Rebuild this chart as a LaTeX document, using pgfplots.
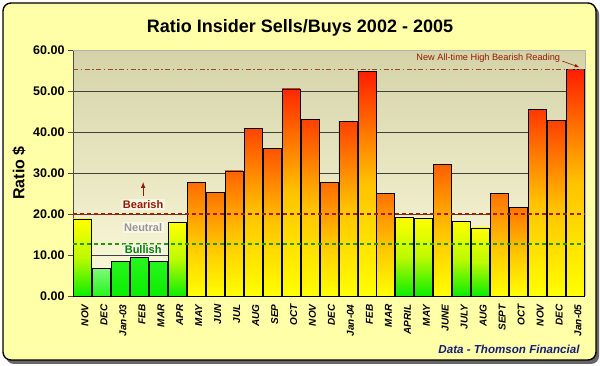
\documentclass[border=0pt]{standalone}
\usepackage{pgfplots}
\pgfplotsset{compat=1.18}
\usepackage{fontspec}
\setmainfont{Liberation Sans}
\definecolor{frameY}{RGB}{255,255,168}
\definecolor{bgTop}{RGB}{212,211,168}
\definecolor{bgBot}{RGB}{253,251,220}
\definecolor{yel}{RGB}{255,255,0}
\definecolor{yelor}{RGB}{255,195,0}
\definecolor{OR}{RGB}{255,115,0}
\definecolor{RD}{RGB}{255,30,0}
\definecolor{grn}{RGB}{10,238,0}
\definecolor{grnL}{RGB}{40,245,30}
\definecolor{grnM}{RGB}{190,250,0}
\definecolor{bearC}{RGB}{150,25,0}
\definecolor{bullC}{RGB}{0,130,0}
\definecolor{neutC}{RGB}{150,150,150}
\definecolor{bearLine}{RGB}{170,30,0}
\definecolor{bullLine}{RGB}{40,150,0}
\definecolor{highLine}{RGB}{170,70,30}
\definecolor{navyC}{RGB}{20,30,120}
\pgfplotsset{
  barbase/.style={ybar, bar shift=0pt, bar width=18pt, draw=black, line width=0.8pt},
  hi/.style={barbase, top color=#1, bottom color=yel, middle color=yelor},
  lo/.style={barbase, top color=yel, bottom color=grn, middle color=grnM},
  gr/.style={barbase, top color=grnL, bottom color=grn},
}
\begin{document}
\begin{tikzpicture}
\useasboundingbox (0,0) rectangle (600pt,366pt);
\fill[black!60, rounded corners=8pt] (6pt,2pt) rectangle (599pt,360pt);
\draw[black, line width=1.4pt, fill=frameY, rounded corners=8pt] (3pt,6pt) rectangle (596pt,363pt);
\node[font=\bfseries\fontsize{18}{21}\selectfont] at (300pt,338pt) {Ratio Insider Sells/Buys 2002 - 2005};
\node[rotate=90, font=\bfseries\fontsize{16}{18}\selectfont] at (19pt,193pt) {Ratio \$};
\node[font=\bfseries\itshape\fontsize{11.6}{13}\selectfont, text=navyC] at (509pt,17pt) {Data - Thomson Financial};
\begin{axis}[
  at={(73pt,70pt)}, anchor=south west,
  scale only axis, width=512pt, height=246pt,
  xmin=-0.5, xmax=26.5, ymin=0, ymax=60,
  axis x line*=bottom, axis y line*=left,
  axis line style={black!70, line width=0.8pt},
  axis background/.style={top color=bgTop, bottom color=bgBot},
  ytick={0,10,...,60},
  ymajorgrids, grid style={black!75, line width=0.6pt},
  tick align=outside,
  major tick length=5pt,
  ytick style={black!70, line width=0.8pt},
  xtick style={draw=none},
  xtick={0,...,26},
  xticklabels={NOV,DEC,Jan-03,FEB,MAR,APR,MAY,JUN,JUL,AUG,SEP,OCT,NOV,DEC,Jan-04,FEB,MAR,APRIL,MAY,JUNE,JULY,AUG,SEPT,OCT,NOV,DEC,Jan-05},
  x tick label style={rotate=90, anchor=east, font=\bfseries\itshape\fontsize{10}{11}\selectfont, yshift=-2.5pt},
  y tick label style={font=\bfseries\fontsize{12.5}{14}\selectfont, /pgf/number format/.cd, fixed, fixed zerofill, precision=2, assume math mode=true},
  clip=false,
]
\addplot[lo] coordinates {(0,18.8)};
\addplot[gr, top color=grnL!60!white, bottom color=grnL] coordinates {(1,6.8)};
\addplot[gr] coordinates {(2,8.5)};
\addplot[gr] coordinates {(3,9.5)};
\addplot[gr] coordinates {(4,8.5)};
\addplot[lo] coordinates {(5,18.0)};
\addplot[hi=RD!9!OR] coordinates {(6,27.8)};
\addplot[hi=OR] coordinates {(7,25.2)};
\addplot[hi=RD!18!OR] coordinates {(8,30.5)};
\addplot[hi=RD!53!OR] coordinates {(9,40.8)};
\addplot[hi=RD!37!OR] coordinates {(10,36.0)};
\addplot[hi=RD!88!OR] coordinates {(11,50.5)};
\addplot[hi=RD!60!OR] coordinates {(12,43.0)};
\addplot[hi=RD!9!OR] coordinates {(13,27.8)};
\addplot[hi=RD!58!OR] coordinates {(14,42.5)};
\addplot[hi=RD] coordinates {(15,54.8)};
\addplot[hi=OR] coordinates {(16,25.0)};
\addplot[lo] coordinates {(17,19.2)};
\addplot[lo] coordinates {(18,19.0)};
\addplot[hi=RD!23!OR] coordinates {(19,32.0)};
\addplot[lo] coordinates {(20,18.2)};
\addplot[lo] coordinates {(21,16.6)};
\addplot[hi=OR] coordinates {(22,25.0)};
\addplot[hi=OR] coordinates {(23,21.7)};
\addplot[hi=RD!70!OR] coordinates {(24,45.6)};
\addplot[hi=RD!60!OR] coordinates {(25,42.8)};
\addplot[hi=RD] coordinates {(26,55.2)};
% reference lines
\addplot[bearLine, line width=1.2pt, dash pattern=on 4pt off 3pt] coordinates {(-0.5,20) (26.5,20)};
\addplot[bullLine, line width=1.2pt, dash pattern=on 4pt off 3pt] coordinates {(-0.5,12.7) (26.5,12.7)};
\addplot[highLine, line width=1.2pt, dash pattern=on 5pt off 2.5pt on 1.5pt off 2.5pt] coordinates {(-0.5,55.3) (26.5,55.3)};
\draw[black!30, line width=0.8pt] (rel axis cs:0,1) -- (rel axis cs:1,1) -- (rel axis cs:1,0);
% annotations
\node[font=\bfseries\fontsize{11}{12}\selectfont, text=bearC, fill=white, fill opacity=0.55, text opacity=1, inner sep=1.5pt] at (axis cs:3.2,22.4) {Bearish};
\draw[-latex, bearC, line width=1pt] (axis cs:3.2,24.4) -- (axis cs:3.2,27.8);
\node[font=\bfseries\fontsize{11}{12}\selectfont, text=neutC, fill=white, fill opacity=0.55, text opacity=1, inner sep=1.5pt] at (axis cs:3.2,16.6) {Neutral};
\node[font=\bfseries\fontsize{11}{12}\selectfont, text=bullC, fill=white, fill opacity=0.55, text opacity=1, inner sep=1.5pt] at (axis cs:3.2,11.4) {Bullish};
\node[font=\fontsize{9.2}{10}\selectfont, text=bearC] at (axis cs:21.4,58) {New All-time High Bearish Reading};
\draw[-latex, bearC, line width=0.6pt] (axis cs:25.3,57.3) -- (axis cs:26.2,55.8);
\end{axis}
\end{tikzpicture}
\end{document}
